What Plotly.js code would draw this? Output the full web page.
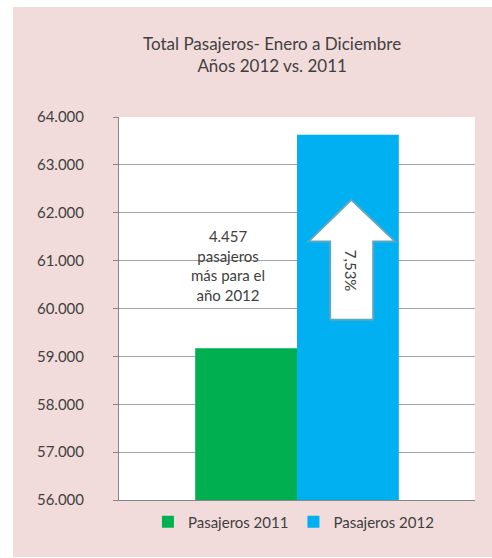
<!DOCTYPE html>
<html>
<head>
<meta charset="utf-8">
<script src="https://cdn.plot.ly/plotly-3.0.1.min.js"></script>
<style>
html,body{margin:0;padding:0;background:#ffffff;}
#chart{position:absolute;left:13px;top:7px;width:479px;height:550px;}
</style>
</head>
<body>
<div id="chart"></div>
<script>
// ---- data ----
const categories = ["Total"];
const seriesNames = ["Pasajeros 2011", "Pasajeros 2012"];
const pasajeros2011 = [59170];
const pasajeros2012 = [63627];
const seriesColors = ["#00b050", "#00b0f0"];
const yTickVals = [56000, 57000, 58000, 59000, 60000, 61000, 62000, 63000, 64000];
const titleLines = ["Total Pasajeros- Enero a Diciembre", "Años 2012 vs. 2011"];
const diffLabel = ["4.457", "pasajeros", "más para el", "año 2012"];
const pctLabel = "7,53%";

const FONT = "Lato, 'Liberation Sans', sans-serif";
const TXT = "#404040";

const traces = [
  {type: "bar", name: seriesNames[0], x: categories, y: pasajeros2011,
   marker: {color: seriesColors[0]}, hoverinfo: "none"},
  {type: "bar", name: seriesNames[1], x: categories, y: pasajeros2012,
   marker: {color: seriesColors[1]}, hoverinfo: "none"}
];

// arrow geometry in paper-x / data-y
const ax0 = 0.593, ax1 = 0.714, hx0 = 0.532, hx1 = 0.776, tipx = 0.6525;
const tipY = 62272, headY = 61400, baseY = 59764;
const arrowPath = `M ${ax0},${baseY} L ${ax0},${headY} L ${hx0},${headY} L ${tipx},${tipY} L ${hx1},${headY} L ${ax1},${headY} L ${ax1},${baseY} Z`;

const layout = {
  width: 479, height: 550,
  paper_bgcolor: "#f2dcdb",
  plot_bgcolor: "#ffffff",
  margin: {l: 106, r: 17, t: 110, b: 57},
  separators: ",.",
  font: {family: FONT, size: 15, color: TXT},
  title: {
    text: titleLines.join("<br>"),
    font: {family: FONT, size: 17, color: TXT},
    xref: "container", x: 0.541, xanchor: "center",
    yref: "container", y: 1 - 43/550, yanchor: "top"
  },
  barmode: "group",
  bargap: 0.428,
  bargroupgap: 0,
  showlegend: true,
  legend: {
    orientation: "h", x: 0.49, xanchor: "center", xref: "paper",
    yref: "container", y: 0.0636, yanchor: "middle",
    font: {family: FONT, size: 15, color: TXT},
    itemwidth: 30, traceorder: "normal", bgcolor: "rgba(0,0,0,0)"
  },
  xaxis: {
    type: "category", showticklabels: false, ticks: "",
    showline: true, linecolor: "#868686", linewidth: 1,
    showgrid: false, zeroline: false, fixedrange: true
  },
  yaxis: {
    range: [56000, 64000], tickvals: yTickVals, tickformat: ",.0f",
    showline: true, linecolor: "#868686", linewidth: 1,
    ticks: "outside", ticklen: 5, tickcolor: "#868686",
    ticklabelstandoff: 26,
    showgrid: true, gridcolor: "#a6a6a6", gridwidth: 1,
    zeroline: false, fixedrange: true,
    tickfont: {family: FONT, size: 15, color: TXT}
  },
  shapes: [
    {type: "path", xref: "paper", yref: "y", path: arrowPath,
     fillcolor: "#ffffff", line: {color: "#5ba7c4", width: 2}, layer: "above"}
  ],
  annotations: [
    {xref: "paper", yref: "y", x: 0.307, y: 60900, text: diffLabel.join("<br>"),
     showarrow: false, xanchor: "center", yanchor: "middle",
     font: {family: FONT, size: 15, color: TXT}},
    {xref: "paper", yref: "y", x: tipx, y: 60780, text: pctLabel, textangle: 90,
     showarrow: false, xanchor: "center", yanchor: "middle",
     font: {family: FONT, size: 15, color: TXT}}
  ]
};

Plotly.newPlot("chart", traces, layout, {displayModeBar: false, staticPlot: true});
</script>
</body>
</html>
